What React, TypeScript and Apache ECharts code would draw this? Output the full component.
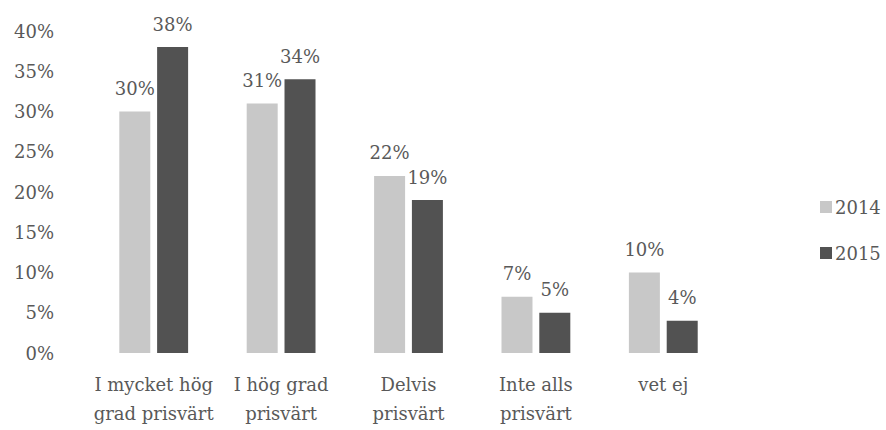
import React, { useEffect, useRef } from "react";
import * as echarts from "echarts";

const categories = [
  "I mycket hög\ngrad prisvärt",
  "I hög grad\nprisvärt",
  "Delvis\nprisvärt",
  "Inte alls\nprisvärt",
  "vet ej",
];
const values2014 = [30, 31, 22, 7, 10];
const values2015 = [38, 34, 19, 5, 4];
const seriesNames = ["2014", "2015"];
const yTicks = [0, 5, 10, 15, 20, 25, 30, 35, 40];

const FONT = "DejaVu Serif";
const TEXT = "#595959";
const LIGHT = "#c8c8c8";
const DARK = "#525252";

export default function App() {
  const ref = useRef<HTMLDivElement>(null);
  useEffect(() => {
    if (!ref.current) return;
    const chart = echarts.init(ref.current, undefined, { renderer: "svg" });
    const label = {
      show: true,
      position: "top" as const,
      distance: 14,
      formatter: (p: any) => `${p.value}%`,
      fontFamily: FONT,
      fontSize: 18,
      color: TEXT,
    };
    chart.setOption({
      animation: false,
      textStyle: { fontFamily: FONT },
      grid: { left: 90, right: 159, top: 31, bottom: 77, containLabel: false },
      legend: {
        orient: "vertical",
        left: 815,
        top: 192,
        itemWidth: 12,
        itemHeight: 12,
        itemGap: 26,
        icon: "rect",
        data: seriesNames,
        textStyle: { fontFamily: FONT, fontSize: 18, color: TEXT, lineHeight: 20, padding: [0, 0, 0, -2] },
      },
      xAxis: {
        type: "category",
        data: categories,
        axisLine: { show: false },
        axisTick: { show: false },
        axisLabel: {
          fontFamily: FONT,
          fontSize: 18,
          color: TEXT,
          lineHeight: 29,
          margin: 17,
          interval: 0,
        },
      },
      yAxis: {
        type: "value",
        min: yTicks[0],
        max: yTicks[yTicks.length - 1],
        interval: 5,
        splitLine: { show: false },
        axisLine: { show: false },
        axisTick: { show: false },
        axisLabel: {
          fontFamily: FONT,
          fontSize: 18,
          color: TEXT,
          margin: 36,
          formatter: (v: number) => `${v}%`,
        },
      },
      series: [
        {
          name: seriesNames[0],
          type: "bar",
          data: values2014,
          barWidth: 31,
          barGap: "22%",
          itemStyle: { color: LIGHT },
          label,
        },
        {
          name: seriesNames[1],
          type: "bar",
          data: values2015,
          barWidth: 31,
          barGap: "22%",
          itemStyle: { color: DARK },
          label,
        },
      ],
    });
    return () => chart.dispose();
  }, []);
  return (
    <div
      ref={ref}
      style={{ position: "fixed", left: 0, top: 0, width: 886, height: 430, background: "#fff" }}
    />
  );
}
